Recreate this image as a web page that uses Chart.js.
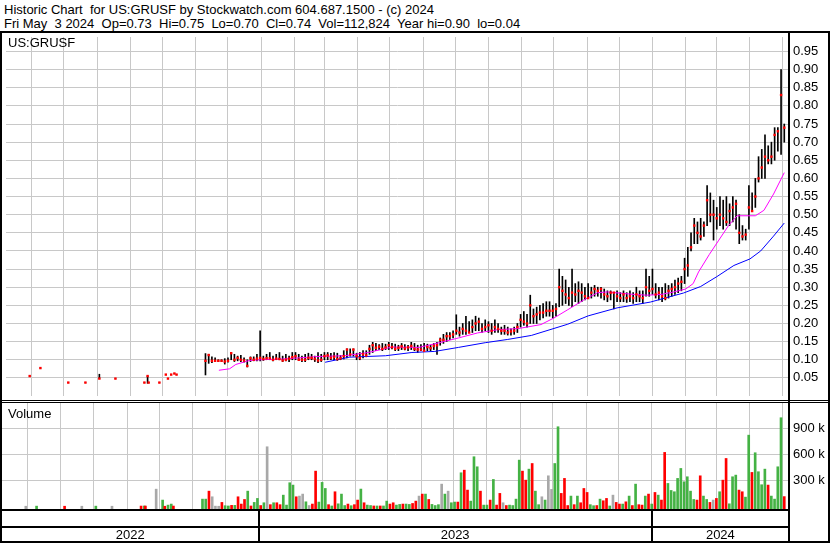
<!DOCTYPE html>
<html>
<head>
<meta charset="utf-8">
<script src="https://cdn.jsdelivr.net/npm/chart.js@4.4.1/dist/chart.umd.min.js"></script>
<style>
  body { margin: 0; background: #fff; width: 830px; height: 543px; overflow: hidden; position: relative;
         font-family: "Liberation Sans", Arial, sans-serif; }
  .t { position: absolute; font-size: 13px; line-height: 15px; color: #000; white-space: pre; }
  .ln { position: absolute; background: #000; }
  canvas { position: absolute; }
</style>
</head>
<body>
<div class="t" style="left:4px;top:2px">Historic Chart  for US:GRUSF by Stockwatch.com 604.687.1500 - (c) 2024</div>
<div class="t" style="left:4px;top:16px">Fri May  3 2024  Op=0.73  Hi=0.75  Lo=0.70  Cl=0.74  Vol=112,824  Year hi=0.90  lo=0.04</div>

<canvas id="price" width="828" height="367" style="left:2px;top:33px"></canvas>
<canvas id="volume" width="828" height="140" style="left:2px;top:403px"></canvas>

<div class="t" style="left:8px;top:35px">US:GRUSF</div>
<div class="t" style="left:8px;top:406px">Volume</div>

<!-- frame -->
<div class="ln" style="left:0;top:31px;width:830px;height:2px"></div>
<div class="ln" style="left:0;top:31px;width:2px;height:512px"></div>
<div class="ln" style="left:788px;top:31px;width:2px;height:511px"></div>
<div class="ln" style="left:828px;top:31px;width:2px;height:512px"></div>
<div class="ln" style="left:0;top:400px;width:830px;height:1px"></div>
<div class="ln" style="left:0;top:402px;width:830px;height:1px"></div>
<div class="ln" style="left:0;top:509px;width:790px;height:2px"></div>
<div class="ln" style="left:0;top:526px;width:790px;height:2px"></div>
<div class="ln" style="left:0;top:541px;width:830px;height:2px"></div>

<script>
// x values are days counted from 2023-01-01
const xMin = -238.1, xMax = 492.4;
const monthDays = [-214, -184, -153, -122, -92, -61, -31, 0, 31, 59, 90, 120, 151, 181, 212, 243, 273, 304, 334, 365, 396, 425, 456, 486];
const yearStarts = [0, 365];
const yearLabels = ['2022', '2023', '2024'];
const priceTicks = [0.05, 0.10, 0.15, 0.20, 0.25, 0.30, 0.35, 0.40, 0.45, 0.50, 0.55, 0.60, 0.65, 0.70, 0.75, 0.80, 0.85, 0.90, 0.95];
const volTicks = [300000, 600000, 900000];

// sparse trades in 2022
const earlyDays = [-216, -206, -180, -164, -151, -136, -109, -106, -105, -95, -89, -87, -84, -81, -79];
const earlyHi  = [.055, .077, .037, .037, .06, .048, .037, .055, .037, .037, .059, .048, .059, .062, .059];
const earlyLo  = [.055, .077, .037, .037, .048, .048, .037, .035, .037, .037, .059, .048, .059, .062, .059];
const earlyCl  = [.055, .077, .037, .037, .048, .048, .037, .055, .037, .037, .059, .048, .059, .062, .059];
const earlyVol = [2, 3, 2, 2, 3, 2, 4, 5, 4, 199, 73, 2, 15, 27, 4];

// regular bars from 2022-11-10, one every 3 days
const firstBarDay = -52, barStepDays = 3;
const hi = [
  .117,.115,.108,.105,.1,.1,.103,.105,.12,.115,
  .11,.112,.105,.1,.108,.108,.115,.18,.11,.115,
  .12,.11,.115,.12,.11,.115,.11,.12,.12,.115,
  .11,.115,.118,.115,.11,.12,.115,.12,.12,.118,
  .12,.118,.112,.125,.13,.13,.13,.118,.12,.125,
  .125,.14,.148,.145,.142,.145,.143,.148,.145,.143,
  .14,.145,.142,.14,.148,.145,.14,.142,.145,.143,
  .14,.145,.148,.16,.17,.175,.175,.18,.224,.19,
  .2,.22,.205,.21,.22,.215,.2,.21,.205,.2,
  .21,.2,.19,.195,.19,.185,.19,.2,.225,.233,
  .225,.278,.24,.245,.25,.255,.26,.26,.25,.255,
  .35,.33,.32,.3,.35,.31,.315,.31,.3,.31,
  .3,.305,.3,.3,.295,.29,.29,.285,.29,.285,
  .29,.285,.29,.285,.3,.29,.29,.35,.33,.35,
  .31,.3,.3,.31,.305,.31,.32,.325,.33,.38,
  .41,.45,.49,.48,.49,.48,.58,.56,.54,.52,
  .55,.54,.55,.53,.55,.54,.5,.47,.46,.58,
  .56,.6,.66,.68,.72,.69,.7,.74,.74,.9,.75
];
const lo = [
  .058,.09,.092,.095,.095,.095,.088,.093,.1,.095,
  .097,.095,.093,.08,.095,.097,.097,.097,.098,.1,
  .1,.097,.1,.1,.095,.097,.095,.1,.1,.098,
  .095,.095,.1,.1,.095,.092,.095,.1,.1,.1,
  .1,.098,.1,.102,.105,.11,.11,.1,.1,.105,
  .108,.115,.12,.125,.128,.125,.128,.128,.13,.125,
  .125,.128,.127,.125,.128,.125,.12,.125,.125,.125,
  .125,.128,.115,.14,.145,.15,.155,.16,.17,.165,
  .17,.17,.175,.175,.18,.18,.175,.18,.175,.17,
  .175,.175,.17,.17,.168,.168,.17,.175,.19,.195,
  .19,.2,.2,.2,.21,.215,.22,.22,.215,.22,
  .246,.25,.255,.25,.246,.26,.255,.26,.265,.27,
  .27,.275,.275,.27,.265,.26,.265,.24,.26,.26,
  .26,.258,.26,.255,.26,.26,.255,.275,.275,.28,
  .27,.265,.26,.265,.27,.275,.28,.285,.29,.31,
  .33,.4,.42,.42,.43,.44,.47,.48,.43,.46,
  .47,.46,.47,.47,.48,.46,.42,.43,.43,.46,
  .51,.52,.59,.6,.6,.64,.64,.65,.675,.666,.7
];
const cl = [
  .097,.113,.097,.097,.097,.097,.095,.097,.118,.1,
  .105,.1,.098,.083,.104,.1,.103,.105,.102,.104,
  .104,.1,.103,.102,.098,.1,.103,.107,.11,.1,
  .1,.1,.105,.105,.102,.098,.1,.11,.112,.105,
  .108,.102,.104,.11,.128,.115,.128,.11,.105,.115,
  .112,.13,.14,.133,.136,.13,.134,.14,.135,.13,
  .133,.137,.131,.134,.138,.13,.128,.128,.125,.135,
  .132,.138,.14,.155,.155,.165,.165,.17,.18,.175,
  .185,.18,.175,.19,.2,.205,.185,.19,.195,.18,
  .19,.185,.18,.18,.175,.178,.18,.19,.21,.205,
  .2,.25,.22,.225,.23,.23,.235,.235,.235,.24,
  .3,.29,.28,.27,.285,.28,.29,.285,.275,.27,
  .285,.295,.29,.295,.28,.275,.285,.285,.275,.27,
  .28,.27,.275,.27,.28,.275,.27,.3,.29,.295,
  .28,.285,.275,.27,.29,.295,.3,.31,.315,.35,
  .36,.41,.47,.45,.44,.47,.54,.5,.5,.49,
  .5,.49,.48,.51,.52,.53,.45,.44,.445,.52,
  .51,.55,.6,.63,.66,.65,.66,.72,.73,.83,.74
];
// volume in thousands of shares
const vol = [
  84,84,176,111,3,2,46,8,5,12,
  12,111,27,80,176,5,46,92,10,42,
  688,20,42,42,20,130,15,273,246,111,
  119,142,53,10,27,407,50,277,207,20,
  5,169,30,142,10,27,8,20,73,200,
  42,15,10,5,5,5,5,61,27,42,
  15,23,27,27,23,34,61,119,142,142,
  80,23,10,20,257,142,176,42,50,50,
  388,418,188,61,573,457,176,15,15,73,
  311,15,150,42,10,15,10,84,534,407,
  303,430,495,176,20,111,73,353,196,495,
  919,150,323,10,119,20,119,42,207,161,
  20,8,10,84,65,92,5,130,46,27,
  27,53,119,10,257,20,15,119,142,27,
  161,130,73,623,265,184,169,323,438,284,
  342,176,80,73,353,119,80,46,73,92,
  169,303,553,30,342,361,188,169,107,822,
  392,619,400,250,430,246,119,84,457,1023,113
];

// moving averages
const ma1Days = [-39.5, -29.5, -23.7, -11, -0.5, 20, 54, 78, 100, 122, 147, 162, 184, 202, 221, 240, 261, 273, 286, 301, 314, 323, 348, 360, 373, 385, 396, 403, 408, 418, 427, 436, 444, 461, 469, 478, 488];
const ma1Vals = [.071, .075, .087, .098, .1, .102, .109, .111, .12, .135, .134, .144, .16, .174, .183, .186, .197, .215, .238, .265, .285, .287, .28, .278, .28, .287, .295, .31, .342, .39, .43, .47, .497, .497, .512, .557, .616];
const ma2Days = [59.6, 82, 116, 140.6, 162, 184, 209, 230, 252, 286, 305, 332, 363, 394, 410, 425, 441, 456, 466, 478, 488];
const ma2Vals = [.093, .107, .111, .12, .123, .134, .147, .156, .167, .198, .221, .243, .259, .284, .302, .329, .36, .378, .40, .441, .477];

const days = earlyDays.concat(hi.map((_, i) => firstBarDay + i * barStepDays));
const hiAll = earlyHi.concat(hi);
const loAll = earlyLo.concat(lo);
const clAll = earlyCl.concat(cl);
const volAll = earlyVol.concat(vol);

const font = { family: '"Liberation Sans", Arial, sans-serif', size: 13 };
const gridColor = '#c8c8c8';
const volColors = clAll.map((c, i) =>
  (i === 0 || c === clAll[i - 1]) ? '#a8a8a8' : (c > clAll[i - 1] ? '#44b244' : '#ff0000'));

function xScale(hideHeight) {
  return {
    type: 'linear', min: xMin, max: xMax, offset: false,
    grid: { color: gridColor, drawTicks: false, offset: false },
    border: { display: false },
    ticks: { display: false },
    afterBuildTicks: s => { s.ticks = monthDays.map(v => ({ value: v })); },
    afterFit: s => { s.height = hideHeight; s.paddingLeft = 0; s.paddingRight = 0; }
  };
}
function yFit(s) { s.width = 41; s.paddingTop = 0; s.paddingBottom = 0; }

new Chart(document.getElementById('price'), {
  type: 'bar',
  data: {
    datasets: [
      { type: 'line', data: days.map((d, i) => ({ x: d, y: clAll[i] })), showLine: false,
        pointStyle: 'rect', pointRadius: 1.7, pointBorderWidth: 0, pointBackgroundColor: '#ff0000', order: 1 },
      { type: 'line', data: ma1Days.map((d, i) => ({ x: d, y: ma1Vals[i] })), borderColor: '#ff00ff',
        borderWidth: 1, pointRadius: 0, tension: 0, order: 2 },
      { type: 'line', data: ma2Days.map((d, i) => ({ x: d, y: ma2Vals[i] })), borderColor: '#0000ff',
        borderWidth: 1, pointRadius: 0, tension: 0, order: 2 },
      { type: 'bar', data: days.map((d, i) => ({ x: d, y: [loAll[i], hiAll[i]] })), backgroundColor: '#000',
        barThickness: 1, grouped: false, order: 3 }
    ]
  },
  options: {
    responsive: false, animation: false, devicePixelRatio: 1,
    layout: { padding: 0 },
    plugins: { legend: { display: false }, tooltip: { enabled: false } },
    scales: {
      x: xScale(0),
      y: {
        position: 'right', min: 0, max: 0.99,
        grid: { color: gridColor, drawTicks: false },
        border: { display: false },
        ticks: { padding: 4, font: font, color: '#000', callback: v => v.toFixed(2) },
        afterBuildTicks: s => { s.ticks = priceTicks.map(v => ({ value: v })); },
        afterFit: yFit
      }
    }
  }
});

const yearStrip = {
  id: 'yearStrip',
  afterDraw(chart) {
    const { ctx, chartArea, scales } = chart;
    const x = scales.x;
    ctx.save();
    ctx.fillStyle = '#000';
    const bounds = [chartArea.left].concat(yearStarts.map(d => x.getPixelForValue(d)), [chartArea.right]);
    yearStarts.forEach(d => {
      const px = Math.round(x.getPixelForValue(d));
      ctx.fillRect(px - 1, chartArea.bottom, 2, chart.height - chartArea.bottom);
    });
    ctx.font = '13px "Liberation Sans", Arial, sans-serif';
    ctx.textAlign = 'center';
    ctx.textBaseline = 'alphabetic';
    yearLabels.forEach((yr, i) => ctx.fillText(yr, (bounds[i] + bounds[i + 1]) / 2, 136));
    ctx.restore();
  }
};

new Chart(document.getElementById('volume'), {
  type: 'bar',
  data: {
    datasets: [
      { data: days.map((d, i) => ({ x: d, y: [-30000, volAll[i] * 1000] })), backgroundColor: volColors,
        barThickness: 2, grouped: false }
    ]
  },
  options: {
    responsive: false, animation: false, devicePixelRatio: 1,
    layout: { padding: 0 },
    plugins: { legend: { display: false }, tooltip: { enabled: false } },
    scales: {
      x: xScale(34),
      y: {
        position: 'right', min: -30000, max: 1193000,
        grid: { color: gridColor, drawTicks: false },
        border: { display: false },
        ticks: { padding: 4, font: font, color: '#000', callback: v => (v / 1000) + ' k' },
        afterBuildTicks: s => { s.ticks = volTicks.map(v => ({ value: v })); },
        afterFit: yFit
      }
    }
  },
  plugins: [yearStrip]
});
</script>
</body>
</html>
